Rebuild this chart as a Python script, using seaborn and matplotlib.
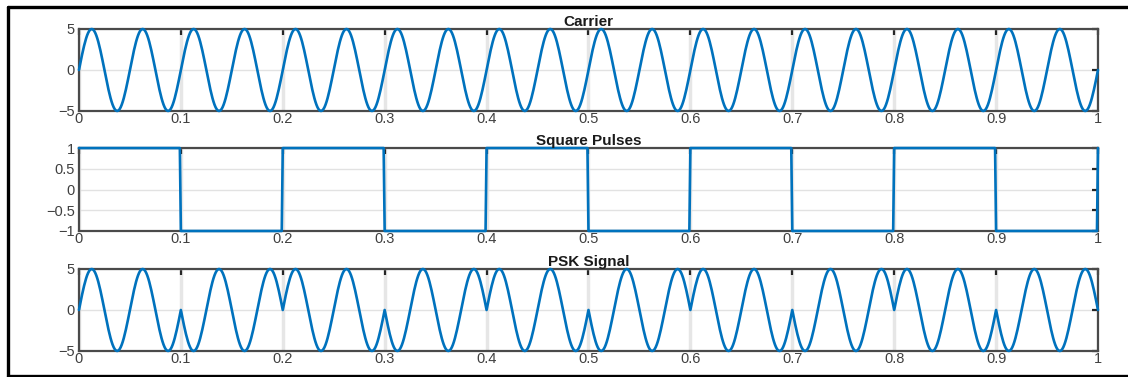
import numpy as np
import pandas as pd
import matplotlib
matplotlib.use('Agg')
import matplotlib.pyplot as plt
import seaborn as sns
from matplotlib.lines import Line2D

# signal parameters
carrier_amp = 5
carrier_freq = 20          # cycles per second (20 peaks over 0..1)
bit_time = 0.1
# square pulse level in each 0.1 s slot (last entry is the value at t=1)
pulse_levels = [1, -1, 1, -1, 1, -1, 1, -1, 1, -1, 1]

x_ticks = [0, 0.1, 0.2, 0.3, 0.4, 0.5, 0.6, 0.7, 0.8, 0.9, 1]
x_labels = ['0', '0.1', '0.2', '0.3', '0.4', '0.5', '0.6', '0.7', '0.8', '0.9', '1']
wave_ticks = [-5, 0, 5]
wave_labels = ['\u22125', '0', '5']
pulse_ticks = [-1, -0.5, 0, 0.5, 1]
pulse_labels = ['\u22121', '\u22120.5', '0', '0.5', '1']
titles = ['Carrier', 'Square Pulses', 'PSK Signal']

t = np.linspace(0, 1, 1001)
carrier = carrier_amp * np.sin(2 * np.pi * carrier_freq * t)
idx = np.minimum(np.floor(t / bit_time + 1e-9).astype(int), len(pulse_levels) - 1)
pulses = np.array(pulse_levels)[idx]
psk = carrier * pulses

df = pd.DataFrame({'t': t, 'Carrier': carrier, 'Square Pulses': pulses, 'PSK Signal': psk})

sns.set_style('white')
plt.rcParams['font.family'] = ['Liberation Sans', 'DejaVu Sans']

fig = plt.figure(figsize=(11.28, 3.77), dpi=100)
rects = [
    [0.0700, 0.7056, 0.9034, 0.2175],
    [0.0700, 0.3873, 0.9034, 0.2200],
    [0.0700, 0.0690, 0.9034, 0.2175],
]

blue = '#0072BD'
for rect, name in zip(rects, titles):
    ax = fig.add_axes(rect)
    sns.lineplot(data=df, x='t', y=name, ax=ax, color=blue, linewidth=1.9,
                 estimator=None, sort=False, zorder=3, clip_on=False)
    ax.set_xlim(0, 1)
    if name == 'Square Pulses':
        ax.set_ylim(-1, 1)
        ax.set_yticks(pulse_ticks)
        ax.set_yticklabels(pulse_labels)
    else:
        ax.set_ylim(-5, 5)
        ax.set_yticks(wave_ticks)
        ax.set_yticklabels(wave_labels)
    ax.set_xticks(x_ticks)
    ax.set_xticklabels(x_labels)
    ax.set_xlabel('')
    ax.set_ylabel('')
    ax.xaxis.grid(True, color='#e6e6e6', linewidth=2.5)
    ax.yaxis.grid(True, color='#e2e2e2', linewidth=1)
    ax.set_axisbelow(True)
    for sp in ax.spines.values():
        sp.set_visible(True)
        sp.set_color('#4a4a4a')
        sp.set_linewidth(1.6)
    ax.tick_params(direction='in', length=4, width=1.6, color='#262626',
                   top=True, right=True, labelsize=10.5, labelcolor='#404040', pad=1)
    ax.tick_params(axis='y', pad=3)
    ax.set_title(name, fontsize=11, fontweight='bold', pad=2, color='#1a1a1a')

# screenshot frame
frame = dict(color='black', linewidth=2.4, transform=fig.transFigure, clip_on=False)
fig.add_artist(Line2D([8 / 1128, 8 / 1128], [1 - 7 / 377, 1 - 376 / 377], **frame))
fig.add_artist(Line2D([8 / 1128, 1.0], [1 - 7 / 377, 1 - 7 / 377], **frame))
fig.add_artist(Line2D([8 / 1128, 1.0], [1 - 376 / 377, 1 - 376 / 377], **frame))

fig.savefig('out.png', dpi=100)
